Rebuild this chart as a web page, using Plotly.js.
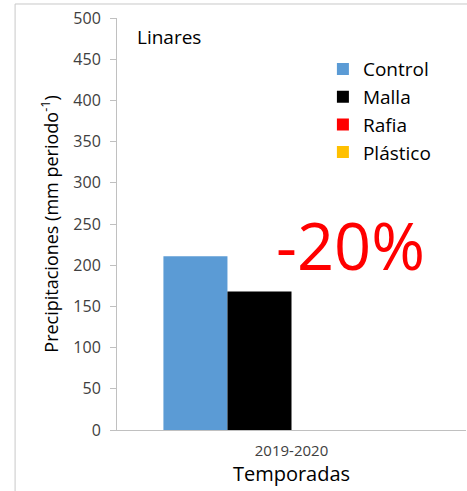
<!DOCTYPE html>
<html>
<head>
<meta charset="utf-8">
<script src="https://cdn.plot.ly/plotly-3.0.1.min.js"></script>
<style>
  html, body { margin: 0; padding: 0; background: #fff; }
  #chart { width: 467px; height: 491px; }
</style>
</head>
<body>
<div id="chart"></div>
<script>
// season on the x axis
var seasons = ["2019-2020"];
// precipitation per treatment (mm periodo-1)
var treatments = ["Control", "Malla", "Rafia", "Plástico"];
var control = [211];
var malla = [168];
var rafia = [null];
var plastico = [null];
var colors = ["#5b9bd5", "#000000", "#ff0000", "#ffc000"];
var yTicks = [0, 50, 100, 150, 200, 250, 300, 350, 400, 450, 500];

var font = "'Open Sans', Lato, sans-serif";
var seriesVals = [control, malla, rafia, plastico];

var data = [];
for (var i = 0; i < treatments.length; i++) {
  data.push({
    type: "bar",
    name: treatments[i],
    x: seasons,
    y: seriesVals[i],
    marker: { color: colors[i] },
    hoverinfo: "none"
  });
}

var layout = {
  width: 467,
  height: 491,
  margin: { l: 117, r: 1, t: 18, b: 61 },
  paper_bgcolor: "#ffffff",
  plot_bgcolor: "#ffffff",
  font: { family: font, color: "#000" },
  barmode: "group",
  bargap: 0.266,
  bargroupgap: 0,
  showlegend: true,
  legend: {
    x: 0.59, y: 0.922, xanchor: "left", yanchor: "top",
    font: { size: 19, family: font, color: "#000" },
    itemwidth: 30,
    tracegroupgap: 0,
    bgcolor: "rgba(0,0,0,0)"
  },
  xaxis: {
    showline: true, linecolor: "#c0c0c0", linewidth: 1,
    ticks: "", showgrid: false, zeroline: false,
    ticklabelstandoff: 7,
    tickfont: { size: 15, color: "#404040" },
    title: { text: "Temporadas", font: { size: 20, color: "#000" }, standoff: 7 }
  },
  yaxis: {
    range: [0, 500], tickvals: yTicks, ticktext: yTicks.map(String),
    showline: true, linecolor: "#c0c0c0", linewidth: 1,
    ticks: "outside", ticklen: 6, tickcolor: "#c0c0c0",
    showgrid: false, zeroline: false,
    ticklabelstandoff: 6,
    tickfont: { size: 16, color: "#404040" },
    title: { text: "Precipitaciones (mm periodo<sup>-1</sup>)", font: { size: 18, color: "#000" }, standoff: 10 }
  },
  annotations: [
    { xref: "paper", yref: "paper", x: 0.052, y: 0.955, xanchor: "left", yanchor: "middle",
      text: "Linares", showarrow: false, font: { size: 19, color: "#000" } },
    { xref: "paper", yref: "paper", x: 0.67, y: 0.45, xanchor: "center", yanchor: "middle",
      text: "-20%", showarrow: false, font: { size: 65, color: "#ff0000" } }
  ],
  shapes: [
    { type: "line", xref: "paper", yref: "paper", x0: -0.292, x1: 1.01, y0: 1.034, y1: 1.034,
      line: { color: "#c8c8c8", width: 1 } },
    { type: "line", xref: "paper", yref: "paper", x0: -0.292, x1: -0.292, y0: 1.034, y1: -0.2,
      line: { color: "#c8c8c8", width: 1 } }
  ]
};

Plotly.newPlot("chart", data, layout, { displayModeBar: false, staticPlot: true });
</script>
</body>
</html>
